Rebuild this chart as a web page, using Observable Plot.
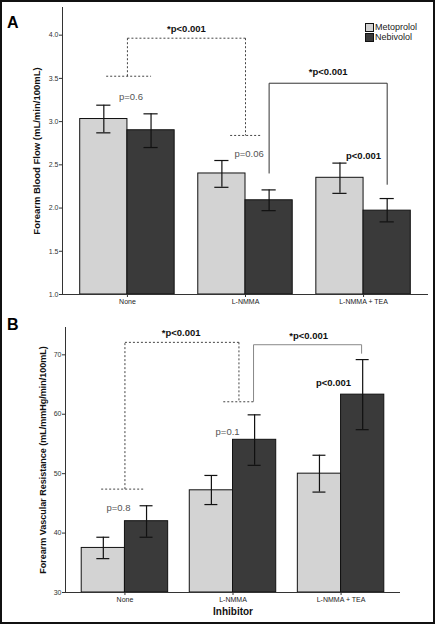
<!DOCTYPE html>
<html>
<head>
<meta charset="utf-8">
<script src="https://cdn.jsdelivr.net/npm/d3@7"></script>
<script src="https://cdn.jsdelivr.net/npm/@observablehq/plot@0.6"></script>
<style>
  html, body { margin: 0; padding: 0; background: #fff; }
  #wrap { position: relative; width: 435px; height: 624px; overflow: hidden; font-family: "Liberation Sans", Arial, sans-serif; background: #fff; }
  #frame { position: absolute; left: 0; top: 0; width: 435px; height: 624px; box-sizing: border-box; border: 2px solid #111; pointer-events: none; }
  .panel { position: absolute; left: 0; }
  .letter { position: absolute; font-weight: bold; font-size: 16px; color: #000; line-height: 1; }
  .legend { position: absolute; left: 365px; top: 23px; font-size: 9px; color: #222; line-height: 9.5px; }
  .legend .row { display: flex; align-items: center; height: 9.5px; }
  .legend .sw { width: 7px; height: 7px; border: 1px solid #111; margin-right: 1px; }
</style>
</head>
<body>
<div id="wrap">
  <div id="top" class="panel" style="top:0px"></div>
  <div id="bottom" class="panel" style="top:310px"></div>
  <div class="letter" style="left:7px; top:15px">A</div>
  <div class="letter" style="left:7px; top:317px">B</div>
  <div class="legend">
    <div class="row"><div class="sw" style="background:#d3d3d3"></div><span>Metoprolol</span></div>
    <div class="row"><div class="sw" style="background:#3a3a3a"></div><span>Nebivolol</span></div>
  </div>
  <div id="frame"></div>
</div>
<script>
// ---------- data ----------
const groups = ["None", "L-NMMA", "L-NMMA + TEA"];
const drugs = ["Metoprolol", "Nebivolol"];
const drugColors = ["#d3d3d3", "#3a3a3a"];

// Panel A: Forearm Blood Flow (mL/min/100mL)
const flowMetoMean = [3.03, 2.40, 2.35];
const flowMetoLow  = [2.87, 2.24, 2.17];
const flowMetoHigh = [3.19, 2.55, 2.52];
const flowNebiMean = [2.90, 2.09, 1.97];
const flowNebiLow  = [2.70, 1.97, 1.84];
const flowNebiHigh = [3.09, 2.21, 2.11];
const flowTicks = [1.0, 1.5, 2.0, 2.5, 3.0, 3.5, 4.0];

// Panel B: Forearm Vascular Resistance (mL/mmHg/min/100mL)
const fvrMetoMean = [37.5, 47.2, 50.0];
const fvrMetoLow  = [35.7, 44.8, 46.9];
const fvrMetoHigh = [39.3, 49.7, 53.1];
const fvrNebiMean = [42.0, 55.7, 63.3];
const fvrNebiLow  = [39.3, 51.4, 57.4];
const fvrNebiHigh = [44.6, 59.9, 69.2];
const fvrTicks = [30, 40, 50, 60, 70];

// Annotation labels (x in group units, y in data units)
const flowLabels = [
  {x: 0.03, y: 3.28, text: "p=0.6", bold: false},
  {x: 1.03, y: 2.63, text: "p=0.06", bold: false},
  {x: 2.0,  y: 2.60, text: "p<0.001", bold: true},
  {x: 0.5,  y: 4.07, text: "*p<0.001", bold: true},
  {x: 1.7,  y: 3.575, text: "*p<0.001", bold: true}
];
const fvrLabels = [
  {x: -0.06, y: 44.3, text: "p=0.8", bold: false},
  {x: 0.95,  y: 57.0, text: "p=0.1", bold: false},
  {x: 1.93,  y: 65.2, text: "p<0.001", bold: true},
  {x: 0.52,  y: 73.6, text: "*p<0.001", bold: true},
  {x: 1.70,  y: 73.2, text: "*p<0.001", bold: true}
];
// Brackets: dashed (None vs L-NMMA) and solid (L-NMMA vs L-NMMA + TEA)
const flowDashed = {xa: 0, xb: 1, top: 3.965, ya: 3.525, yb: 2.84, wa: [-0.18, 0.2], wb: [0.87, 1.13]};
const flowSolid  = {xa: 1.2, xb: 2.2, top: 3.444, ya: 2.40, yb: 2.27};
const fvrDashed  = {xa: 0, xb: 1.055, top: 72.1, ya: 47.4, yb: 62.1, wa: [-0.22, 0.18], wb: [0.91, 1.19]};
const fvrSolid   = {xa: 1.19, xb: 2.19, top: 71.7, ya: 62.1, yb: 70.2};

// ---------- drawing ----------
const FONT = "'Liberation Sans', Arial, sans-serif";
const barW = 0.4, capW = 0.06;

function rowsFor(mMean, mLo, mHi, nMean, nLo, nHi) {
  return groups.flatMap((g, i) => [
    {pos: i, drug: drugs[0], mean: mMean[i], lo: mLo[i], hi: mHi[i]},
    {pos: i, drug: drugs[1], mean: nMean[i], lo: nLo[i], hi: nHi[i]}
  ]);
}

function segmentsFor(d, s) {
  const dashed = [
    {x1: d.xa, y1: d.ya, x2: d.xa, y2: d.top},
    {x1: d.xa, y1: d.top, x2: d.xb, y2: d.top},
    {x1: d.xb, y1: d.top, x2: d.xb, y2: d.yb},
    {x1: d.wa[0], y1: d.ya, x2: d.wa[1], y2: d.ya},
    {x1: d.wb[0], y1: d.yb, x2: d.wb[1], y2: d.yb}
  ];
  const solid = [
    {x1: s.xa, y1: s.ya, x2: s.xa, y2: s.top},
    {x1: s.xa, y1: s.top, x2: s.xb, y2: s.top},
    {x1: s.xb, y1: s.top, x2: s.xb, y2: s.yb}
  ];
  return {dashed, solid};
}

function panel({rows, ticks, yDomain, width, height, ml, mr, mt, mb, yLabel, yLabelDx, yLabelSize, labels, dashed, solid, solidColor, xLabel}) {
  const cx = d => d.pos + (d.drug === drugs[0] ? -barW / 2 : barW / 2);
  const segs = segmentsFor(dashed, solid);
  const marks = [
    Plot.rect(rows, {
      x1: d => d.pos + (d.drug === drugs[0] ? -barW : 0),
      x2: d => d.pos + (d.drug === drugs[0] ? 0 : barW),
      y1: () => yDomain[0], y2: "mean",
      fill: "drug", stroke: "#111", strokeWidth: 1
    }),
    Plot.ruleX(rows, {x: cx, y1: "lo", y2: "hi", stroke: "#111", strokeWidth: 1.2}),
    Plot.ruleY(rows, {x1: d => cx(d) - capW, x2: d => cx(d) + capW, y: "hi", stroke: "#111", strokeWidth: 1.2}),
    Plot.ruleY(rows, {x1: d => cx(d) - capW, x2: d => cx(d) + capW, y: "lo", stroke: "#111", strokeWidth: 1.2}),
    Plot.ruleX([-0.55], {stroke: "#333", strokeWidth: 1}),
    Plot.ruleY([yDomain[0]], {stroke: "#333", strokeWidth: 1}),
    Plot.axisY(ticks, {tickFormat: d => ticks[1] - ticks[0] < 1 ? d.toFixed(1) : String(d), tickSize: 3, tickPadding: 1, fontSize: 7, fill: "#333", stroke: "#333", label: null}),
    Plot.axisX([0, 1, 2], {tickFormat: i => groups[i], tickSize: 3, tickPadding: 2, fontSize: 7, fill: "#222", stroke: "#333", label: null}),
    Plot.link(segs.dashed, {x1: "x1", y1: "y1", x2: "x2", y2: "y2", stroke: "#444", strokeWidth: 1, strokeDasharray: "2,2"}),
    Plot.link(segs.solid, {x1: "x1", y1: "y1", x2: "x2", y2: "y2", stroke: solidColor, strokeWidth: 1}),
    Plot.text(labels.filter(d => !d.bold), {x: "x", y: "y", text: "text", fontSize: 9.5, fill: "#555", fontFamily: FONT}),
    Plot.text(labels.filter(d => d.bold), {x: "x", y: "y", text: "text", fontSize: 9.5, fontWeight: "bold", fill: "#111", fontFamily: FONT}),
    Plot.text([yLabel], {frameAnchor: "left", textAnchor: "middle", dx: yLabelDx, rotate: -90, fontSize: yLabelSize, fontWeight: "bold", fill: "#111", fontFamily: FONT})
  ];
  if (xLabel) {
    marks.push(Plot.text([xLabel], {frameAnchor: "bottom", dy: 22, fontSize: 10, fontWeight: "bold", fill: "#111", fontFamily: FONT}));
  }
  return Plot.plot({
    width, height,
    marginLeft: ml, marginRight: mr, marginTop: mt, marginBottom: mb,
    style: {fontFamily: FONT, background: "transparent", overflow: "visible"},
    x: {domain: [-0.55, 2.55]},
    y: {domain: yDomain},
    color: {domain: drugs, range: drugColors},
    marks
  });
}

document.getElementById("top").append(panel({
  rows: rowsFor(flowMetoMean, flowMetoLow, flowMetoHigh, flowNebiMean, flowNebiLow, flowNebiHigh),
  ticks: flowTicks, yDomain: [1, 4.32],
  width: 435, height: 310, ml: 62, mr: 7, mt: 7, mb: 16,
  yLabel: "Forearm Blood Flow (mL/min/100mL)", yLabelDx: -26, yLabelSize: 9.5,
  labels: flowLabels, dashed: flowDashed, solid: flowSolid, solidColor: "#333"
}));

document.getElementById("bottom").append(panel({
  rows: rowsFor(fvrMetoMean, fvrMetoLow, fvrMetoHigh, fvrNebiMean, fvrNebiLow, fvrNebiHigh),
  ticks: fvrTicks, yDomain: [30, 74.6],
  width: 435, height: 314, ml: 65, mr: 35, mt: 17, mb: 32,
  yLabel: "Forearm Vascular Resistance (mL/mmHg/min/100mL)", yLabelDx: -22, yLabelSize: 9,
  labels: fvrLabels, dashed: fvrDashed, solid: fvrSolid, solidColor: "#888", xLabel: "Inhibitor"
}));
</script>
</body>
</html>
